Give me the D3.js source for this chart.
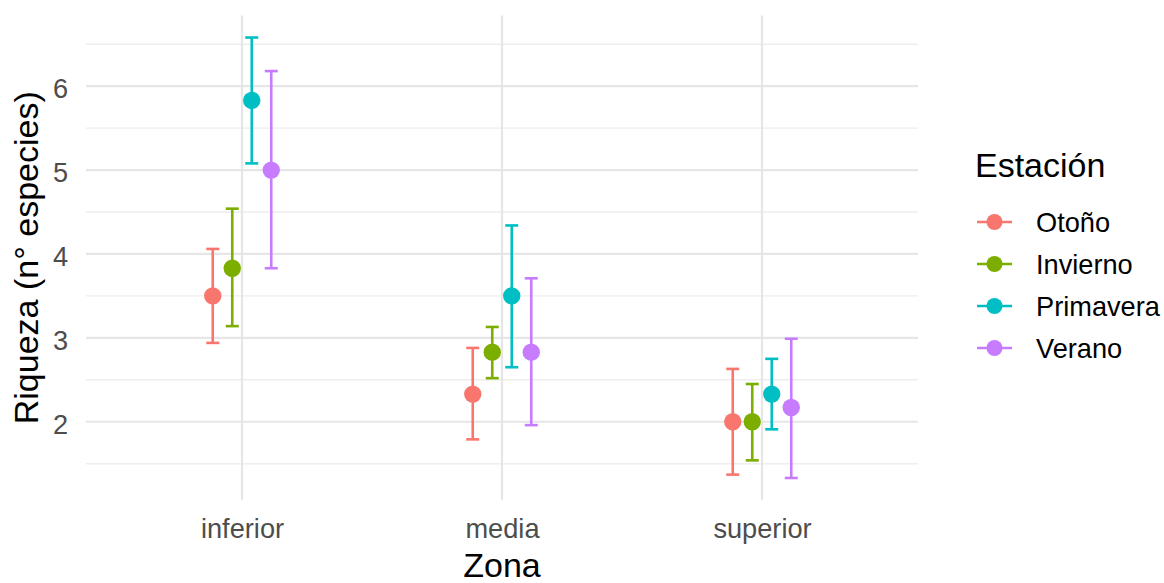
<!DOCTYPE html>
<html>
<head>
<meta charset="utf-8">
<script src="https://cdn.jsdelivr.net/npm/d3@7"></script>
<style>
  html, body { margin: 0; padding: 0; background: #ffffff; }
  svg { display: block; font-family: "Liberation Sans", Arial, sans-serif; }
</style>
</head>
<body>
<svg id="chart" width="1164" height="583"></svg>
<script>
// Zones (x axis) and seasons (colour groups)
const zones = ["inferior", "media", "superior"];
const seasons = ["Otoño", "Invierno", "Primavera", "Verano"];
const seasonColors = ["#F8766D", "#7CAE00", "#00BFC4", "#C77CFF"];

// Mean richness per season, one value per zone (inferior, media, superior)
const meanOtono     = [3.50, 2.33, 2.00];
const meanInvierno  = [3.83, 2.83, 2.00];
const meanPrimavera = [5.83, 3.50, 2.33];
const meanVerano    = [5.00, 2.83, 2.17];

// Error bar limits per season
const lowOtono      = [2.94, 1.79, 1.37];
const lowInvierno   = [3.14, 2.52, 1.54];
const lowPrimavera  = [5.08, 2.65, 1.91];
const lowVerano     = [3.83, 1.96, 1.33];

const highOtono     = [4.06, 2.88, 2.63];
const highInvierno  = [4.54, 3.13, 2.45];
const highPrimavera = [6.58, 4.34, 2.75];
const highVerano    = [6.18, 3.71, 2.99];

// Axis ticks
const yMajorTicks = [2, 3, 4, 5, 6];
const yMinorTicks = [1.5, 2.5, 3.5, 4.5, 5.5, 6.5];

const means = [meanOtono, meanInvierno, meanPrimavera, meanVerano];
const lows = [lowOtono, lowInvierno, lowPrimavera, lowVerano];
const highs = [highOtono, highInvierno, highPrimavera, highVerano];

const rows = [];
seasons.forEach((s, i) => {
  zones.forEach((z, j) => {
    rows.push({ season: s, zone: z, mean: means[i][j], low: lows[i][j], high: highs[i][j] });
  });
});

const svg = d3.select("#chart");

const titleSize = 34, textSize = 27.2;
const panel = { left: 86, right: 918, top: 15.5, bottom: 500 };

// Continuous y with 5% expansion on each side
const yMin = d3.min(rows, d => d.low), yMax = d3.max(rows, d => d.high);
const pad = (yMax - yMin) * 0.05;
const y = d3.scaleLinear().domain([yMin - pad, yMax + pad]).range([panel.bottom, panel.top]);

// Discrete x with 0.6 unit expansion
const x = d3.scalePoint().domain(zones).range([panel.left, panel.right]).padding(0.6);
const step = x.step();
const dodge = d3.scaleBand().domain(seasons).range([-0.15 * step, 0.15 * step]).padding(0);
const dx = s => dodge(s) + dodge.bandwidth() / 2;

const color = d3.scaleOrdinal().domain(seasons).range(seasonColors);

// Grid
const grid = svg.append("g");
grid.selectAll(".minor").data(yMinorTicks).join("line")
  .attr("x1", panel.left).attr("x2", panel.right)
  .attr("y1", d => y(d)).attr("y2", d => y(d))
  .attr("stroke", "#EEEEEE").attr("stroke-width", 1.4);
grid.selectAll(".major").data(yMajorTicks).join("line")
  .attr("x1", panel.left).attr("x2", panel.right)
  .attr("y1", d => y(d)).attr("y2", d => y(d))
  .attr("stroke", "#E6E6E6").attr("stroke-width", 2.2);
grid.selectAll(".xmajor").data(zones).join("line")
  .attr("x1", d => x(d)).attr("x2", d => x(d))
  .attr("y1", panel.top).attr("y2", panel.bottom)
  .attr("stroke", "#E6E6E6").attr("stroke-width", 2.2);

// Y axis labels
const yAxis = d3.axisLeft(y).tickValues(yMajorTicks).tickSize(0).tickPadding(18).tickFormat(d3.format("d"));
const gy = svg.append("g").attr("transform", `translate(${panel.left},0)`).call(yAxis);
gy.select(".domain").remove();
gy.selectAll("text").attr("font-size", textSize).attr("fill", "#4D4D4D")
  .attr("font-family", "'Liberation Sans', Arial, sans-serif")
  .attr("dy", "0.36em").attr("transform", "translate(0,2)");

// X axis labels
const xAxis = d3.axisBottom(x).tickSize(0).tickPadding(0);
const gx = svg.append("g").attr("transform", `translate(0,${panel.bottom})`).call(xAxis);
gx.select(".domain").remove();
gx.selectAll("text").attr("font-size", textSize).attr("fill", "#4D4D4D")
  .attr("font-family", "'Liberation Sans', Arial, sans-serif")
  .attr("dy", null).attr("y", 38);

// Axis titles
svg.append("text").attr("x", (panel.left + panel.right) / 2).attr("y", 577).attr("text-anchor", "middle")
  .attr("font-size", titleSize).attr("fill", "#000").text("Zona");
svg.append("text").attr("transform", `translate(38,${(panel.top + panel.bottom) / 2}) rotate(-90)`)
  .attr("text-anchor", "middle").attr("font-size", titleSize).attr("fill", "#000").text("Riqueza (n° especies)");

// Error bars and points
const marks = svg.append("g");
const cap = 6.5;
const g = marks.selectAll("g.pt").data(rows).join("g")
  .attr("transform", d => `translate(${x(d.zone) + dx(d.season)},0)`);
g.append("line").attr("y1", d => y(d.low)).attr("y2", d => y(d.high))
  .attr("stroke", d => color(d.season)).attr("stroke-width", 2.6);
g.append("line").attr("x1", -cap).attr("x2", cap).attr("y1", d => y(d.low)).attr("y2", d => y(d.low))
  .attr("stroke", d => color(d.season)).attr("stroke-width", 2.6);
g.append("line").attr("x1", -cap).attr("x2", cap).attr("y1", d => y(d.high)).attr("y2", d => y(d.high))
  .attr("stroke", d => color(d.season)).attr("stroke-width", 2.6);
g.append("circle").attr("cy", d => y(d.mean)).attr("r", 8.7).attr("fill", d => color(d.season));

// Legend
const legend = svg.append("g").attr("transform", "translate(975,0)");
legend.append("text").attr("x", 0).attr("y", 177).attr("font-size", titleSize).attr("fill", "#000").text("Estación");
const item = legend.selectAll("g.item").data(seasons).join("g")
  .attr("transform", (d, i) => `translate(0,${222 + i * 42})`);
item.append("line").attr("x1", 2).attr("x2", 37).attr("stroke", d => color(d)).attr("stroke-width", 2.6);
item.append("circle").attr("cx", 19.5).attr("r", 8).attr("fill", d => color(d));
item.append("text").attr("x", 61).attr("dy", "0.36em").attr("font-size", textSize).attr("fill", "#000").text(d => d);
</script>
</body>
</html>
